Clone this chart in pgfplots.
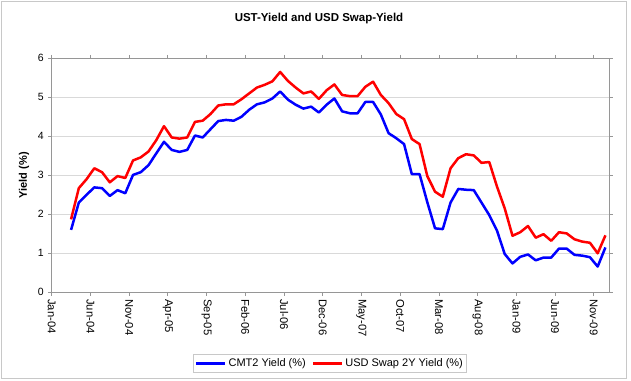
\documentclass[border=0pt]{standalone}
\usepackage{fontspec}
\setmainfont{Liberation Sans}
\usepackage{pgfplots}
\pgfplotsset{compat=1.18}
\definecolor{gridc}{RGB}{217,217,217}
\definecolor{axisc}{RGB}{150,150,150}
\definecolor{borderc}{RGB}{200,200,200}
\begin{document}
\begin{tikzpicture}
\path[use as bounding box] (0pt,0pt) rectangle (631pt,380pt);
\draw[borderc, line width=1pt] (1.5pt,1.5pt) rectangle (626pt,378.5pt);
\node[font=\fontsize{11.5}{13}\selectfont\bfseries] at (319pt,361pt) {UST-Yield and USD Swap-Yield};
\begin{axis}[
  at={(51.7pt,87.7pt)}, anchor=south west,
  width=557.6pt, height=234pt, scale only axis,
  xmin=0, xmax=72, ymin=0, ymax=6,
  xtick={0,5,...,70},
  xticklabels={Jan-04,Jun-04,Nov-04,Apr-05,Sep-05,Feb-06,Jul-06,Dec-06,May-07,Oct-07,Mar-08,Aug-08,Jan-09,Jun-09,Nov-09},
  ytick={0,1,...,6},
  tick align=outside,
  major tick length=3.5pt,
  x tick style={axisc, line width=0.8pt},
  y tick style={axisc, line width=0.8pt},
  axis line style={axisc, line width=1pt},
  ymajorgrids,
  grid style={gridc, line width=1.2pt},
  /pgf/number format/assume math mode=true,
  yticklabel style={font=\fontsize{10.5}{12}\selectfont, xshift=-1pt},
  xticklabel style={font=\fontsize{11.2}{13}\selectfont, rotate=-90, anchor=west, xshift=0pt},
  ylabel={Yield (\%)},
  every axis y label/.style={at={(axis description cs:-0.0497,0.5)}, rotate=90, anchor=center, font=\fontsize{11}{13}\selectfont\bfseries},
  legend columns=2,
  legend style={at={(axis description cs:0.4991,-0.3034)}, anchor=center, draw=borderc, line width=0.8pt,
    font=\fontsize{11}{13}\selectfont, inner xsep=2pt, inner ysep=2pt,
    /tikz/every even column/.append style={column sep=4pt}},
  legend image code/.code={\draw[#1, line width=2.5pt] (0pt,0pt) -- (29pt,0pt);},
  clip=false,
]
\addplot[blue, line width=2.5pt, line join=round] coordinates {
(2.5,1.60) (3.5,2.30) (4.5,2.50) (5.5,2.69) (6.5,2.67) (7.5,2.47) (8.5,2.62) (9.5,2.54)
(10.5,3.01) (11.5,3.08) (12.5,3.26) (13.5,3.56) (14.5,3.86) (15.5,3.65) (16.5,3.60) (17.5,3.65)
(18.5,4.02) (19.5,3.97) (20.5,4.18) (21.5,4.39) (22.5,4.42) (23.5,4.40) (24.5,4.50) (25.5,4.68)
(26.5,4.82) (27.5,4.87) (28.5,4.97) (29.5,5.15) (30.5,4.94) (31.5,4.81) (32.5,4.71) (33.5,4.76)
(34.5,4.61) (35.5,4.81) (36.5,4.97) (37.5,4.64) (38.5,4.59) (39.5,4.59) (40.5,4.88) (41.5,4.88)
(42.5,4.56) (43.5,4.08) (44.5,3.95) (45.5,3.80) (46.5,3.03) (47.5,3.03) (48.5,2.31) (49.5,1.64)
(50.5,1.62) (51.5,2.30) (52.5,2.65) (53.5,2.63) (54.5,2.62) (55.5,2.30) (56.5,1.98) (57.5,1.58)
(58.5,0.98) (59.5,0.74) (60.5,0.91) (61.5,0.97) (62.5,0.82) (63.5,0.89) (64.5,0.89) (65.5,1.12)
(66.5,1.12) (67.5,0.96) (68.5,0.94) (69.5,0.90) (70.5,0.66) (71.5,1.15)
};
\addlegendentry{CMT2 Yield (\%)}
\addplot[red, line width=2.5pt, line join=round] coordinates {
(2.5,1.87) (3.5,2.67) (4.5,2.90) (5.5,3.18) (6.5,3.08) (7.5,2.82) (8.5,2.98) (9.5,2.93)
(10.5,3.38) (11.5,3.46) (12.5,3.61) (13.5,3.90) (14.5,4.26) (15.5,3.97) (16.5,3.94) (17.5,3.97)
(18.5,4.37) (19.5,4.40) (20.5,4.57) (21.5,4.79) (22.5,4.82) (23.5,4.82) (24.5,4.95) (25.5,5.10)
(26.5,5.25) (27.5,5.32) (28.5,5.41) (29.5,5.65) (30.5,5.42) (31.5,5.25) (32.5,5.10) (33.5,5.15)
(34.5,4.96) (35.5,5.18) (36.5,5.33) (37.5,5.06) (38.5,5.03) (39.5,5.03) (40.5,5.27) (41.5,5.40)
(42.5,5.06) (43.5,4.85) (44.5,4.57) (45.5,4.44) (46.5,3.93) (47.5,3.80) (48.5,2.98) (49.5,2.58)
(50.5,2.45) (51.5,3.18) (52.5,3.44) (53.5,3.54) (54.5,3.51) (55.5,3.32) (56.5,3.34) (57.5,2.71)
(58.5,2.15) (59.5,1.45) (60.5,1.54) (61.5,1.70) (62.5,1.40) (63.5,1.49) (64.5,1.32) (65.5,1.54)
(66.5,1.51) (67.5,1.36) (68.5,1.30) (69.5,1.27) (70.5,1.00) (71.5,1.46)
};
\addlegendentry{USD Swap 2Y Yield (\%)}
\end{axis}
\end{tikzpicture}
\end{document}
